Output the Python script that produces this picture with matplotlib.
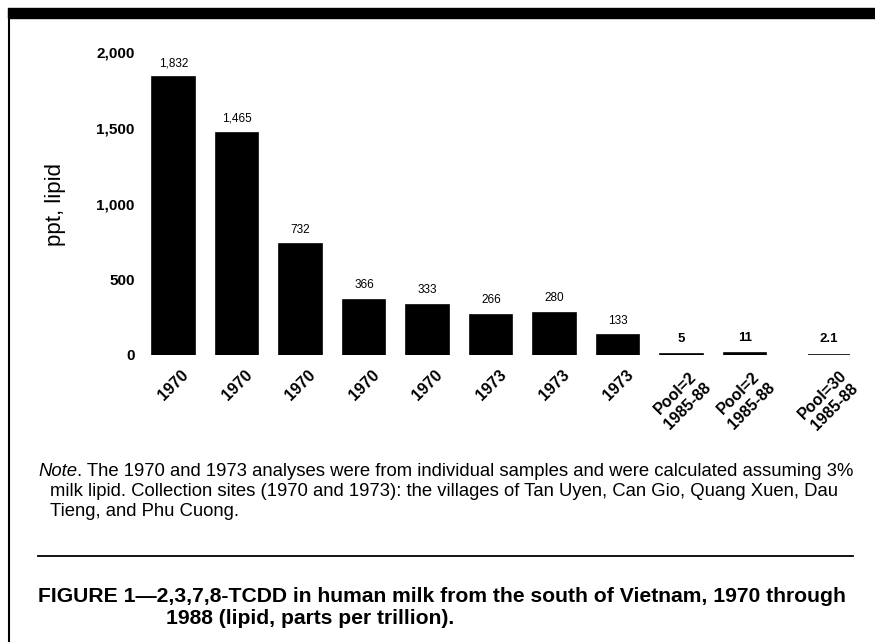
import numpy as np
import matplotlib
matplotlib.use('Agg')
import matplotlib.pyplot as plt
from matplotlib.patches import Rectangle
from matplotlib.lines import Line2D

plt.rcParams['font.family'] = ['Liberation Sans', 'DejaVu Sans']

years = ['1970', '1970', '1970', '1970', '1970', '1973', '1973', '1973',
         'Pool=2\n1985-88', 'Pool=2\n1985-88', 'Pool=30\n1985-88']
values = [1832, 1465, 732, 366, 333, 266, 280, 133, 5, 11, 2.1]
value_labels = ['1,832', '1,465', '732', '366', '333', '266', '280', '133', '5', '11', '2.1']
yticks = [0, 500, 1000, 1500, 2000]
ytick_labels = ['0', '500', '1,000', '1,500', '2,000']

W, H = 875, 642
fig = plt.figure(figsize=(W / 100, H / 100), dpi=100)

# axes placed in pixel terms
x0, x1 = 150, 860
y0, y1 = 355, 52
ax = fig.add_axes([x0 / W, 1 - y0 / H, (x1 - x0) / W, (y0 - y1) / H])

pos = np.arange(len(values), dtype=float)
pos[-1] += 0.32  # last pooled sample sits a bit further right
ax.bar(pos, values, width=0.67, color='black', edgecolor='black', linewidth=1.2)

for p, v, lab in zip(pos, values, value_labels):
    small = v < 50
    ax.annotate(lab, (p, v), xytext=(0, 6 if not small else 7), textcoords='offset points',
                ha='center', va='bottom', fontsize=8.5 if not small else 9.5,
                fontweight='bold' if small else 'normal')

ax.set_ylim(0, 2000)
ax.set_xlim((x0 - 173.5) / 63.5, (x1 - 173.5) / 63.5)
ax.set_yticks(yticks)
ax.set_yticklabels(ytick_labels, fontsize=11, fontweight='bold')
ax.set_xticks(pos)
ax.set_xticklabels(years, rotation=45, ha='center', va='top', fontsize=11.5,
                   fontweight='bold', linespacing=1.2)
ax.tick_params(axis='both', length=0)
ax.tick_params(axis='y', pad=11)
ax.tick_params(axis='x', pad=9)
for s in ax.spines.values():
    s.set_visible(False)

fig.text(56 / W, 1 - 204 / H, 'ppt, lipid', rotation=90, ha='center', va='center', fontsize=16)

# page frame: thick top band and thin left rule
fig.add_artist(Rectangle((8 / W, 1 - 18 / H), 1, 10 / H, transform=fig.transFigure,
                         color='black', clip_on=False))
fig.add_artist(Line2D([8.5 / W, 8.5 / W], [0, 1 - 9 / H], transform=fig.transFigure,
                      color='black', linewidth=1.5))

# note block
t = fig.text(38 / W, 1 - 471 / H, 'Note', style='italic', fontsize=13.3, va='center')
fig.canvas.draw()
bb = t.get_window_extent()
fig.text(bb.x1 / W, 1 - 471 / H,
         '. The 1970 and 1973 analyses were from individual samples and were calculated assuming 3%',
         fontsize=13.3, va='center')
fig.text(50 / W, 1 - 491 / H,
         'milk lipid. Collection sites (1970 and 1973): the villages of Tan Uyen, Can Gio, Quang Xuen, Dau',
         fontsize=13.3, va='center')
fig.text(50 / W, 1 - 511 / H, 'Tieng, and Phu Cuong.', fontsize=13.3, va='center')

fig.add_artist(Line2D([38 / W, 853 / W], [1 - 556 / H, 1 - 556 / H], transform=fig.transFigure,
                      color='black', linewidth=1.3))

fig.text(38 / W, 1 - 596 / H,
         'FIGURE 1\u20142,3,7,8-TCDD in human milk from the south of Vietnam, 1970 through',
         fontsize=15.2, fontweight='bold', va='center')
fig.text(166 / W, 1 - 619 / H, '1988 (lipid, parts per trillion).',
         fontsize=15.2, fontweight='bold', va='center')

fig.savefig('out.png', dpi=100)
